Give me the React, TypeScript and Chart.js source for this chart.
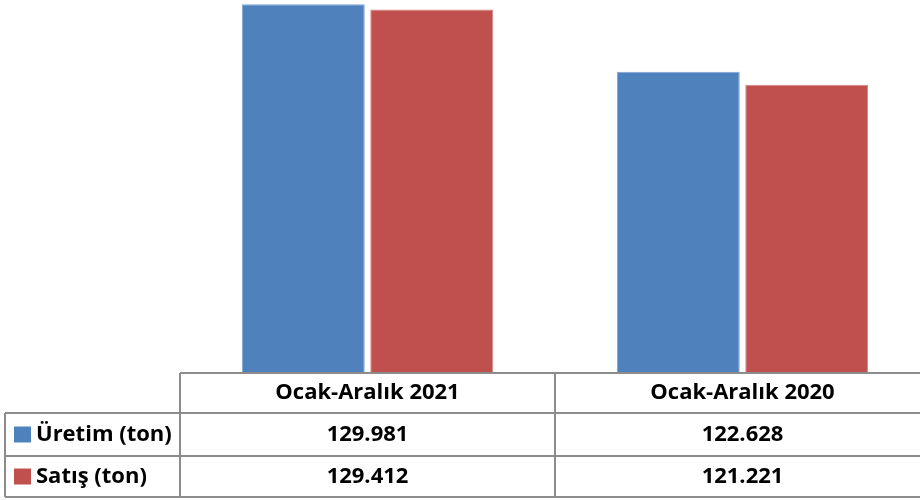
import React, { useEffect, useRef } from "react";
import { Chart, registerables } from "chart.js";

Chart.register(...registerables);

const categories = ["Ocak-Aralık 2021", "Ocak-Aralık 2020"];
const seriesNames = ["Üretim (ton)", "Satış (ton)"];
const uretim = [129981, 122628];
const satis = [129412, 121221];
const colors = ["#4F81BD", "#C0504D"];

const fmt = (v: number) => {
  const s = String(v);
  return s.replace(/\B(?=(\d{3})+(?!\d))/g, ".");
};

const tablePlugin = {
  id: "dataTable",
  afterDraw(chart: any) {
    const ctx = chart.ctx;
    const x = chart.scales.x;
    const area = chart.chartArea;
    const n = categories.length;
    const catW = (area.right - area.left) / n;
    const top = area.bottom + 1;
    const rowH = [40, 43, 41];
    const y0 = top;
    const y1 = y0 + rowH[0];
    const y2 = y1 + rowH[1];
    const y3 = y2 + rowH[2];
    const legendLeft = 5;
    ctx.save();
    ctx.strokeStyle = "#8C8C8C";
    ctx.lineWidth = 2;
    ctx.beginPath();
    ctx.moveTo(area.left, y0);
    ctx.lineTo(area.right, y0);
    ctx.moveTo(legendLeft, y1);
    ctx.lineTo(area.right, y1);
    ctx.moveTo(legendLeft, y2);
    ctx.lineTo(area.right, y2);
    ctx.moveTo(legendLeft, y3);
    ctx.lineTo(area.right, y3);
    ctx.moveTo(legendLeft, y1);
    ctx.lineTo(legendLeft, y3);
    for (let i = 0; i <= n; i++) {
      const xx = area.left + catW * i;
      ctx.moveTo(xx, y0);
      ctx.lineTo(xx, y3);
    }
    ctx.stroke();

    ctx.fillStyle = "#000";
    ctx.font = "bold 22px 'Open Sans'";
    ctx.textBaseline = "middle";
    ctx.textAlign = "center";
    categories.forEach((c, i) => {
      const cx = x.getPixelForValue(i);
      ctx.fillText(c, cx, (y0 + y1) / 2);
    });
    const series = [uretim, satis];
    const rowsY = [(y1 + y2) / 2, (y2 + y3) / 2];
    series.forEach((s, si) => {
      s.forEach((v, i) => {
        const cx = x.getPixelForValue(i);
        ctx.textAlign = "center";
        ctx.fillText(fmt(v), cx, rowsY[si]);
      });
      ctx.fillStyle = colors[si];
      ctx.fillRect(14, rowsY[si] - 8, 17, 16);
      ctx.fillStyle = "#000";
      ctx.textAlign = "left";
      ctx.fillText(seriesNames[si], 36, rowsY[si]);
    });
    ctx.restore();
  },
};

export default function App() {
  const ref = useRef<HTMLCanvasElement>(null);
  useEffect(() => {
    document.body.style.margin = "0";
    const chart = new Chart(ref.current!, {
      type: "bar",
      data: {
        labels: categories,
        datasets: [
          {
            label: seriesNames[0],
            data: uretim,
            backgroundColor: colors[0],
            borderColor: "#7FA3D3",
            borderWidth: 1,
            categoryPercentage: 0.685,
            barPercentage: 0.957,
          },
          {
            label: seriesNames[1],
            data: satis,
            backgroundColor: colors[1],
            borderColor: "#D58583",
            borderWidth: 1,
            categoryPercentage: 0.685,
            barPercentage: 0.957,
          },
        ],
      },
      options: {
        animation: false,
        responsive: false,
        layout: { padding: { left: 180, right: 0, top: 4, bottom: 128 } },
        plugins: { legend: { display: false }, tooltip: { enabled: false } },
        scales: {
          x: { display: false },
          y: { display: false, min: 90000, max: 130000 },
        },
      },
      plugins: [tablePlugin],
    });
    return () => chart.destroy();
  }, []);
  return (
    <div style={{ position: "fixed", left: 0, top: 0, width: 920, height: 500, overflow: "hidden", background: "#fff" }}>
      <canvas ref={ref} width={930} height={500} style={{ display: "block" }} />
    </div>
  );
}
